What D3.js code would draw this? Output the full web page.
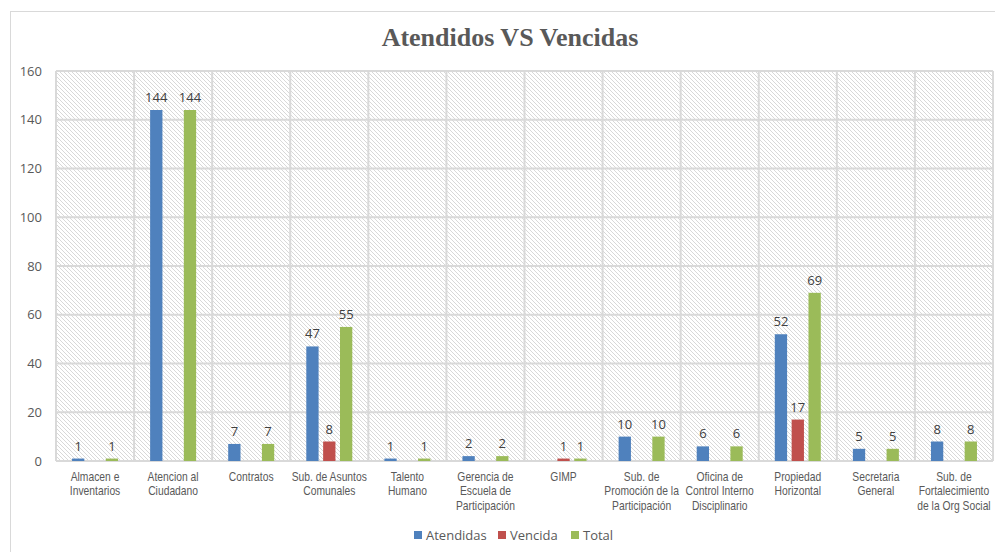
<!DOCTYPE html>
<html lang="es">
<head>
<meta charset="UTF-8">
<title>Atendidos VS Vencidas</title>
<script src="https://d3js.org/d3.v7.min.js"></script>
<style>
  body { margin: 0; background: #fff; }
  svg { display: block; }
  .tick-y text { font-family: "Open Sans", "Liberation Sans", sans-serif; font-size: 13px; fill: #595959; }
  .xlab { font-family: "Liberation Sans", sans-serif; font-size: 12px; fill: #595959; }
  .vlab { font-family: "Open Sans", "Liberation Sans", sans-serif; font-size: 13px; fill: #404040; }
  .legend text { font-family: "Open Sans", "Liberation Sans", sans-serif; font-size: 13px; fill: #595959; }
</style>
</head>
<body>
<svg width="995" height="552"></svg>
<script>
const categories = [
  ["Almacen e", "Inventarios"],
  ["Atencion al", "Ciudadano"],
  ["Contratos"],
  ["Sub. de Asuntos", "Comunales"],
  ["Talento", "Humano"],
  ["Gerencia de", "Escuela de", "Participación"],
  ["GIMP"],
  ["Sub. de", "Promoción de la", "Participación"],
  ["Oficina de", "Control Interno", "Disciplinario"],
  ["Propiedad", "Horizontal"],
  ["Secretaria", "General"],
  ["Sub. de", "Fortalecimiento", "de la Org Social"]
];
const atendidas = [1, 144, 7, 47, 1, 2, null, 10, 6, 52, 5, 8];
const vencida   = [null, null, null, 8, null, null, 1, null, null, 17, null, null];
const total     = [1, 144, 7, 55, 1, 2, 1, 10, 6, 69, 5, 8];
const seriesNames = ["Atendidas", "Vencida", "Total"];
const colors = ["#4f81bd", "#c0504d", "#9bbb59"];
const yTicks = [0, 20, 40, 60, 80, 100, 120, 140, 160];

const svg = d3.select("svg");
const W = 995, H = 552;

// outer chart border
svg.append("rect").attr("x", 10.5).attr("y", 11.5).attr("width", W - 10).attr("height", H - 10)
  .attr("fill", "#fff").attr("stroke", "#d9d9d9").attr("stroke-width", 1);

const plotL = 56, plotR = 993, plotT = 71, plotB = 461;

// hatch pattern
const defs = svg.append("defs");
const pat = defs.append("pattern").attr("id", "hatch").attr("patternUnits", "userSpaceOnUse")
  .attr("width", 4).attr("height", 4);
pat.append("rect").attr("width", 4).attr("height", 4).attr("fill", "#fff");
pat.append("path").attr("d", "M-1,-1 L5,5 M-1,3 L1,5 M3,-1 L5,1")
  .attr("stroke", "#d4d4d4").attr("stroke-width", 0.9);

const x = d3.scaleBand().domain(d3.range(categories.length)).range([plotL, plotR]);
const y = d3.scaleLinear().domain([0, 160]).range([plotB, plotT]);
const xs = d3.scaleBand().domain(d3.range(3)).range([0, 46]).paddingInner(0.27);

svg.append("rect").attr("x", plotL).attr("y", plotT).attr("width", plotR - plotL).attr("height", plotB - plotT)
  .attr("fill", "url(#hatch)");

// grid
svg.append("g").selectAll("line").data(yTicks).join("line")
  .attr("x1", plotL).attr("x2", plotR).attr("y1", d => y(d)).attr("y2", d => y(d))
  .attr("stroke", "#d9d9d9").attr("stroke-width", 2);
svg.append("g").selectAll("line").data(d3.range(categories.length + 1)).join("line")
  .attr("x1", d => plotL + d * x.step()).attr("x2", d => plotL + d * x.step())
  .attr("y1", plotT).attr("y2", plotB)
  .attr("stroke", "#d9d9d9").attr("stroke-width", 2);

// y labels
const yg = svg.append("g").attr("class", "tick-y");
yg.selectAll("text").data(yTicks).join("text")
  .attr("x", 42).attr("y", d => y(d)).attr("dy", "0.35em").attr("text-anchor", "end")
  .text(d => d);

// bars
const series = [atendidas, vencida, total];
const groupOffset = (x.bandwidth() - 46) / 2;
series.forEach((vals, si) => {
  const g = svg.append("g");
  const data = vals.map((v, i) => ({ i, v })).filter(d => d.v != null);
  g.selectAll("rect").data(data).join("rect")
    .attr("x", d => x(d.i) + groupOffset + xs(si))
    .attr("width", xs.bandwidth())
    .attr("y", d => y(d.v))
    .attr("height", d => plotB - y(d.v))
    .attr("fill", colors[si]);
  g.selectAll("text").data(data).join("text")
    .attr("class", "vlab")
    .attr("x", d => x(d.i) + groupOffset + xs(si) + xs.bandwidth() / 2)
    .attr("y", d => y(d.v) - 8)
    .attr("text-anchor", "middle")
    .text(d => d.v);
});

// x labels (condensed like Arial Narrow)
const xl = svg.append("g");
categories.forEach((lines, i) => {
  const cx = x(i) + x.bandwidth() / 2;
  const t = xl.append("text").attr("class", "xlab").attr("text-anchor", "middle")
    .attr("transform", `translate(${cx},481) scale(0.86,1)`);
  lines.forEach((ln, j) => {
    t.append("tspan").attr("x", 0).attr("dy", j === 0 ? 0 : 14.5).text(ln);
  });
});

// title
svg.append("text").attr("x", 510).attr("y", 46).attr("text-anchor", "middle")
  .style("font-family", "'Liberation Serif', serif").style("font-weight", "bold")
  .style("font-size", "26px").style("fill", "#595959")
  .text("Atendidos VS Vencidas");

// legend
const legend = svg.append("g").attr("class", "legend");
const legX = [414, 498, 571];
seriesNames.forEach((n, i) => {
  legend.append("rect").attr("x", legX[i]).attr("y", 531).attr("width", 8).attr("height", 8).attr("fill", colors[i]);
  legend.append("text").attr("x", legX[i] + 12).attr("y", 535).attr("dy", "0.35em").text(n);
});
</script>
</body>
</html>
